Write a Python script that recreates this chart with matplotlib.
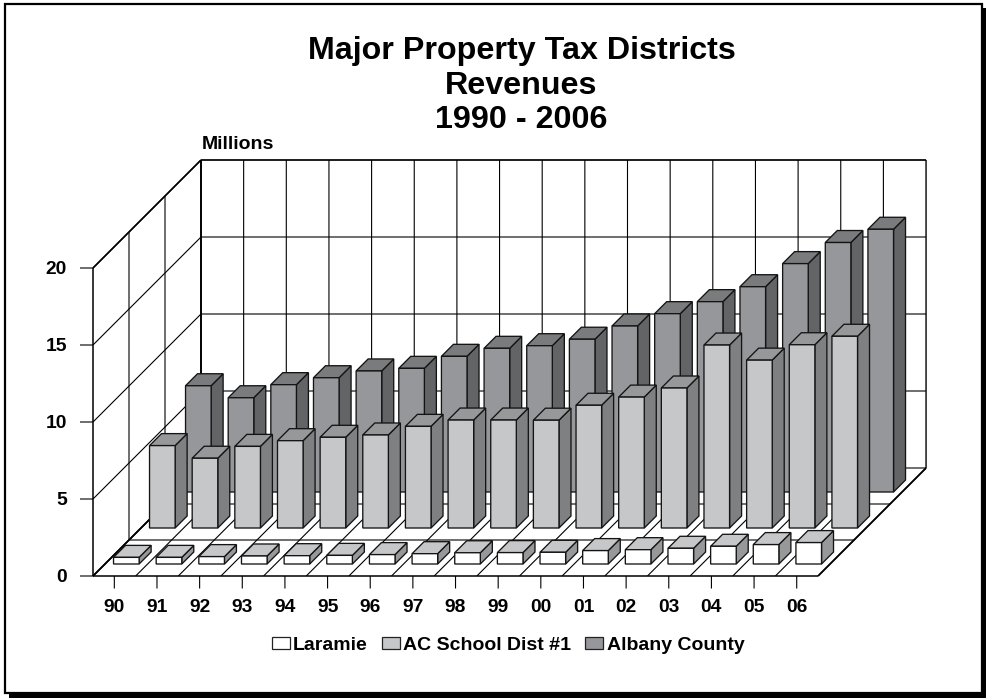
import matplotlib
matplotlib.use("Agg")
import matplotlib.pyplot as plt
from matplotlib.patches import Polygon, Rectangle

categories = ["90","91","92","93","94","95","96","97","98","99","00","01","02","03","04","05","06"]
laramie = [0.43,0.43,0.48,0.52,0.54,0.56,0.61,0.67,0.73,0.74,0.76,0.87,0.93,1.02,1.15,1.26,1.39]
ac_school = [5.35,4.53,5.30,5.67,5.89,6.04,6.60,7.01,7.01,7.00,7.97,8.50,9.09,11.88,10.90,11.90,12.45]
albany = [6.90,6.12,6.97,7.42,7.86,8.03,8.81,9.33,9.50,9.92,10.78,11.58,12.36,13.33,14.83,16.20,17.06]
series_names = ["Laramie", "AC School Dist #1", "Albany County"]
y_ticks = [0, 5, 10, 15, 20]
title_lines = ["Major Property Tax Districts", "Revenues", "1990 - 2006"]

FACE = ["#ffffff", "#c6c7c9", "#96979b"]
TOP = ["#c6c7c9", "#97989a", "#7a7b7d"]
SIDE = ["#97989a", "#7f8082", "#636466"]

X0, Y0 = 93.0, 576.0
CAT_W = 42.65
UNIT = 15.4
DEPTH = 108.0
ROW = DEPTH / 3
GAP = 0.2 * CAT_W
BAR_W = 0.6 * CAT_W
BAR_D = ROW / 3
YMAX = y_ticks[-1]
N = len(categories)

plt.rcParams["font.family"] = ["Liberation Sans", "DejaVu Sans"]
plt.rcParams["font.weight"] = "bold"
fig = plt.figure(figsize=(9.87, 6.98), dpi=100)
ax = fig.add_axes([0, 0, 1, 1])
ax.set_xlim(0, 987)
ax.set_ylim(698, 0)
ax.axis("off")


def P(cat, depth, val):
    """Oblique projection of (category position, depth, value) to the page."""
    return X0 + cat * CAT_W + depth, Y0 - depth - val * UNIT


def line(a, b, color="black", lw=0.8, z=1):
    ax.plot([a[0], b[0]], [a[1], b[1]], color=color, lw=lw, zorder=z,
            solid_capstyle="butt", snap=False)


# page frame
ax.add_patch(Rectangle((9, 8), 978, 690, fc="black", ec="none", zorder=0))
ax.add_patch(Rectangle((5, 4), 977, 689, fc="white", ec="black", lw=1.6, zorder=0.1))

# grid: walls
for v in y_ticks:
    line(P(0, 0, v), P(0, DEPTH, v), lw=0.8)
    line(P(0, DEPTH, v), P(N, DEPTH, v), lw=0.8)
    line((X0 - 13, P(0, 0, v)[1]), P(0, 0, v), lw=0.8)
for r in (1, 2):
    line(P(0, r * ROW, 0), P(0, r * ROW, YMAX))
    line(P(0, r * ROW, 0), P(N, r * ROW, 0))
for k in range(1, N):
    line(P(k, DEPTH, 0), P(k, DEPTH, YMAX))
for k in range(N + 1):
    line(P(k, 0, 0), P(k, DEPTH, 0))
line(P(0, 0, 0), P(0, 0, YMAX), lw=1.1)
line(P(0, DEPTH, 0), P(0, DEPTH, YMAX), lw=1.4)
line(P(N, DEPTH, 0), P(N, DEPTH, YMAX), lw=1.0)
line(P(0, 0, YMAX), P(0, DEPTH, YMAX), lw=1.2)
line(P(0, DEPTH, YMAX), P(N, DEPTH, YMAX), lw=1.0)
line(P(0, 0, 0), P(N, 0, 0), lw=1.1)
line(P(0, 0, 0), P(0, DEPTH, 0), lw=1.3)
line(P(N, 0, 0), P(N, DEPTH, 0), lw=1.3)

# x ticks
for i, c in enumerate(categories):
    x, y = P(i + 0.5, 0, 0)
    line((x, y), (x, y + 12.5), lw=0.8)
    ax.text(x, 608, c, ha="center", va="center", fontsize=13.9, color="black")
for v in y_ticks:
    ax.text(67, P(0, 0, v)[1] + 1.5, str(v), ha="right", va="center", fontsize=13.9, color="black")

# bars, back row first
for s, vals in reversed(list(enumerate([laramie, ac_school, albany]))):
    d = ROW * s + BAR_D
    for i, v in enumerate(vals):
        c0 = i + GAP / CAT_W
        c1 = c0 + BAR_W / CAT_W
        z = 5 + (2 - s) * 2
        side = [P(c1, d, 0), P(c1, d + BAR_D, 0), P(c1, d + BAR_D, v), P(c1, d, v)]
        top = [P(c0, d, v), P(c1, d, v), P(c1, d + BAR_D, v), P(c0, d + BAR_D, v)]
        face = [P(c0, d, 0), P(c1, d, 0), P(c1, d, v), P(c0, d, v)]
        for pts, col in ((side, SIDE[s]), (top, TOP[s]), (face, FACE[s])):
            ax.add_patch(Polygon(pts, closed=True, fc=col, ec="#141414", lw=0.95,
                                 joinstyle="miter", zorder=z, snap=False))

# titles
for ty, t in zip((51, 85.5, 120.5), title_lines):
    ax.text(521.5, ty, t, ha="center", va="center", fontsize=23.2, color="black")
ax.text(202, 144.5, "Millions", ha="left", va="center", fontsize=14, color="black")

# legend
for (sx, tx), name, col in zip(((272, 293), (382, 403), (585, 607)), series_names, FACE):
    ax.add_patch(Rectangle((sx, 636.5), 17.5, 12.5, fc=col, ec="#222222", lw=0.9, zorder=3))
    ax.text(tx, 645, name, ha="left", va="center", fontsize=14, color="black")

fig.savefig("out.png", dpi=100)
